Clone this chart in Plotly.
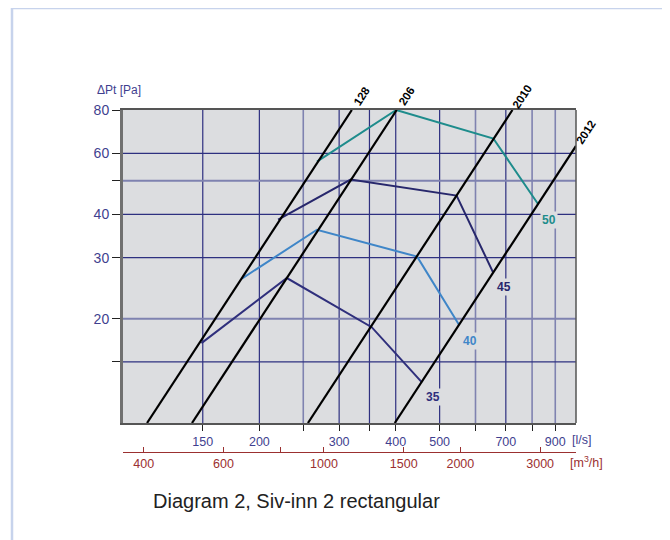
import numpy as np
import plotly.graph_objects as go

# ---------------- data ----------------
# fan curves: airflow [l/s] and total pressure [Pa]
fan_labels = ["35", "40", "45", "50"]
fan35_q = [149, 230, 354, 457]
fan35_p = [17.0, 26.2, 18.9, 13.1]
fan40_q = [183, 268, 446, 553]
fan40_p = [26.1, 36.1, 30.2, 19.1]
fan45_q = [220, 318, 545, 656]
fan45_p = [38.6, 50.4, 45.3, 27.2]
fan50_q = [268, 401, 657, 826]
fan50_p = [56.8, 80.0, 66.2, 42.7]

# system (duct) lines: end points [l/s], [Pa]
sys_labels = ["128", "206", "2010", "2012"]
sys128_q = [113, 320]
sys128_p = [10, 80]
sys206_q = [142, 402]
sys206_p = [10, 80]
sys2010_q = [256, 724]
sys2010_p = [10, 80]
sys2012_q = [398, 1000]
sys2012_p = [10, 63]

# axes
x_ticks_ls = [150, 200, 250, 300, 350, 400, 500, 600, 700, 800, 900]
x_ticktext_ls = ["150", "200", "", "300", "", "400", "500", "", "700", "", "900"]
x_ticks_m3h = [400, 600, 800, 1000, 1500, 2000, 3000]
x_ticktext_m3h = ["400", "600", "", "1000", "1500", "2000", "3000"]
y_ticks = [15, 20, 30, 40, 50, 60, 80]
y_ticktext = ["", "20", "30", "40", "", "60", "80"]

grid_v_dark = [150, 200, 300, 350, 400, 500, 700]
grid_v_light = [250, 600, 800, 900]
grid_h_dark = [15, 30, 40, 60]
grid_h_light = [20, 50]

X_MIN, X_MAX = 100, 1000
Y_MIN, Y_MAX = 10, 80

# ---------------- styling ----------------
FONT = "Liberation Sans, Arial, Helvetica, sans-serif"
NAVY_TXT = "#3f3f8f"
RED = "#9b3030"
GRID_DARK = "#2e3080"
GRID_LIGHT = "#7f82b0"
BG = "#dcdde0"

fan_colors = {"35": "#2f2f7c", "40": "#3f86c8", "45": "#27276c", "50": "#1e8c8c"}

fig = go.Figure()


def grid_trace(vals, vertical, color, width):
    xs, ys = [], []
    for v in vals:
        if vertical:
            xs += [v, v, None]
            ys += [Y_MIN, Y_MAX, None]
        else:
            xs += [X_MIN, X_MAX, None]
            ys += [v, v, None]
    return go.Scatter(x=xs, y=ys, mode="lines", line=dict(color=color, width=width),
                      hoverinfo="skip", showlegend=False)


fig.add_trace(grid_trace(grid_v_light, True, GRID_LIGHT, 1.6))
fig.add_trace(grid_trace(grid_v_dark, True, GRID_DARK, 1.2))
fig.add_trace(grid_trace(grid_h_light, False, GRID_LIGHT, 2.0))
fig.add_trace(grid_trace(grid_h_dark, False, GRID_DARK, 1.2))

# fan curves
fans = {"35": (fan35_q, fan35_p), "40": (fan40_q, fan40_p),
        "45": (fan45_q, fan45_p), "50": (fan50_q, fan50_p)}
for lab in fan_labels:
    q, p = fans[lab]
    fig.add_trace(go.Scatter(x=q, y=p, mode="lines",
                             line=dict(color=fan_colors[lab], width=2),
                             hoverinfo="skip", showlegend=False))

# system lines
systems = {"128": (sys128_q, sys128_p), "206": (sys206_q, sys206_p),
           "2010": (sys2010_q, sys2010_p), "2012": (sys2012_q, sys2012_p)}
for lab in sys_labels:
    q, p = systems[lab]
    fig.add_trace(go.Scatter(x=q, y=p, mode="lines",
                             line=dict(color="#000000", width=2.2),
                             hoverinfo="skip", showlegend=False))

# dummy trace for the m3/h axis
fig.add_trace(go.Scatter(x=[x_ticks_m3h[0]], y=[Y_MIN], xaxis="x2", yaxis="y",
                         mode="markers", marker=dict(opacity=0),
                         hoverinfo="skip", showlegend=False))

annotations = []
# system line labels
for lab in sys_labels:
    q, p = systems[lab]
    annotations.append(dict(x=np.log10(q[-1]), y=np.log10(p[-1]), xref="x", yref="y",
                            text="<b>%s</b>" % lab, showarrow=False, textangle=-57,
                            xanchor="center", yanchor="middle", xshift=10, yshift=14,
                            font=dict(family=FONT, size=11.5, color="#000000")))
# fan curve labels
for lab in fan_labels:
    q, p = fans[lab]
    annotations.append(dict(x=np.log10(q[-1]), y=np.log10(p[-1]), xref="x", yref="y",
                            text="<b>%s</b>" % lab, showarrow=False,
                            xanchor="center", yanchor="middle", xshift=11, yshift=-15,
                            bgcolor=BG, borderpad=1,
                            font=dict(family=FONT, size=12, color=fan_colors[lab])))

# layout geometry in page pixels (page body has an 8px margin)
OFF = 8
W, H = 670, 540
plot_left, plot_right = 123, 576
paper_top, paper_bottom = 110, 452
plot_bottom = 423
L = plot_left - OFF
R = W - (plot_right - OFF)
T = paper_top - OFF
B = H - (paper_bottom - OFF)
PW = plot_right - plot_left
PH = paper_bottom - paper_top


def px(xp):
    return (xp - plot_left) / PW


def py(yp):
    return (paper_bottom - yp) / PH


annotations += [
    dict(x=px(95), y=py(90), xref="paper", yref="paper", text="ΔPt [Pa]",
         showarrow=False, xanchor="left", yanchor="middle",
         font=dict(family=FONT, size=12, color=NAVY_TXT)),
    dict(x=px(570), y=py(440), xref="paper", yref="paper", text="[l/s]",
         showarrow=False, xanchor="left", yanchor="middle",
         font=dict(family=FONT, size=12.5, color=NAVY_TXT)),
    dict(x=px(568), y=py(462), xref="paper", yref="paper", text="[m<sup>3</sup>/h]",
         showarrow=False, xanchor="left", yanchor="middle",
         font=dict(family=FONT, size=12.5, color=RED)),
    dict(x=px(151), y=py(501), xref="paper", yref="paper",
         text="Diagram 2, Siv-inn 2 rectangular",
         showarrow=False, xanchor="left", yanchor="middle",
         font=dict(family=FONT, size=20, color="#222222")),
]

shapes = [
    # outer light-blue frame
    dict(type="rect", xref="paper", yref="paper", x0=px(12), x1=px(720),
         y0=py(580), y1=py(8), line=dict(color="#c7d3ec", width=2.5), layer="below"),
    # right plot border
    dict(type="line", xref="paper", yref="paper", x0=1, x1=1,
         y0=py(plot_bottom), y1=1, line=dict(color="#555555", width=1.5)),
]

fig.update_layout(
    width=W, height=H,
    margin=dict(l=L, r=R, t=T, b=B, pad=0),
    paper_bgcolor="white", plot_bgcolor=BG,
    font=dict(family=FONT),
    showlegend=False,
    xaxis=dict(type="log", range=[np.log10(X_MIN), np.log10(X_MAX)], domain=[0, 1],
               anchor="y", showgrid=False, zeroline=False,
               showline=True, linecolor="#555555", linewidth=1.5, mirror=True,
               ticks="outside", ticklen=6, tickwidth=1.2, tickcolor="#222222",
               tickvals=x_ticks_ls, ticktext=x_ticktext_ls,
               tickfont=dict(family=FONT, size=12.5, color=NAVY_TXT)),
    xaxis2=dict(type="log", range=[np.log10(X_MIN * 3.6), np.log10(X_MAX * 3.6)],
                overlaying="x", anchor="free", position=0, side="bottom",
                showgrid=False, zeroline=False,
                showline=True, linecolor=RED, linewidth=1.2,
                ticks="inside", ticklen=5, tickwidth=1, tickcolor=RED,
                tickvals=x_ticks_m3h, ticktext=x_ticktext_m3h,
                tickfont=dict(family=FONT, size=12.5, color=RED)),
    yaxis=dict(type="log", range=[np.log10(Y_MIN), np.log10(Y_MAX)],
               domain=[py(plot_bottom), 1], anchor="x",
               showgrid=False, zeroline=False,
               showline=True, linecolor="#707070", linewidth=3,
               ticks="outside", ticklen=8, tickwidth=1.2, tickcolor="#222222",
               tickvals=y_ticks, ticktext=y_ticktext,
               tickfont=dict(family=FONT, size=14, color=NAVY_TXT)),
    annotations=annotations,
    shapes=shapes,
)

fig.write_html("out.html")
